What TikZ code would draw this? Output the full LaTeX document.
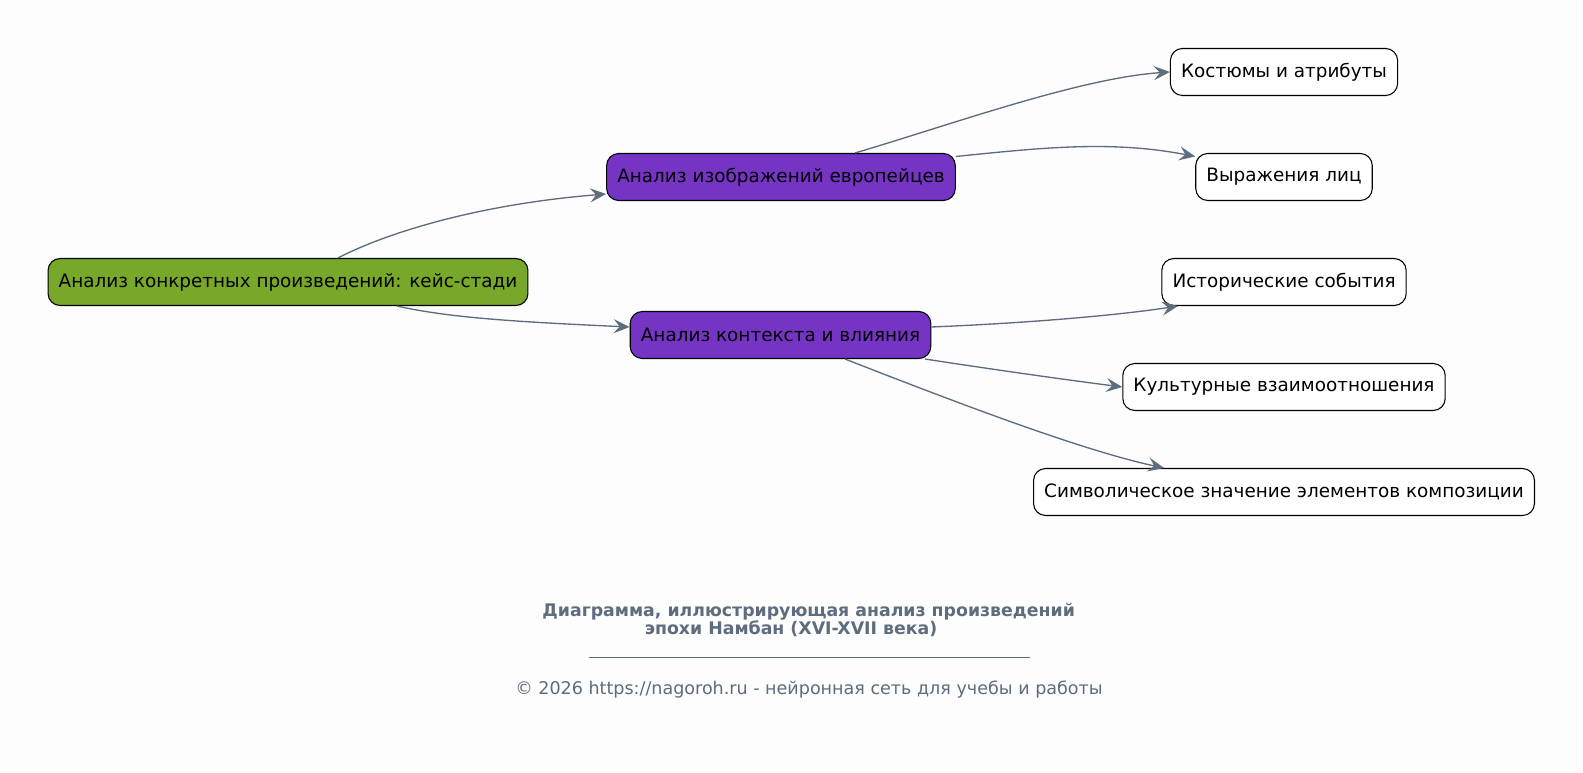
\documentclass[tikz,border=0pt]{standalone}
\usepackage{fontspec}
\setmainfont{DejaVu Sans}
\usetikzlibrary{arrows.meta}
\definecolor{bgc}{HTML}{FDFDFD}
\definecolor{rootc}{HTML}{77A82A}
\definecolor{midc}{HTML}{7634C4}
\definecolor{edgec}{HTML}{5D6D7E}
\tikzset{
  box/.style={draw=black, line width=0.8pt, rounded corners=9pt, minimum height=35.25pt,
    inner xsep=8pt, font=\fontsize{13.8pt}{16pt}\selectfont, text=black},
  rootbox/.style={box, fill=rootc},
  midbox/.style={box, fill=midc},
  leafbox/.style={box, fill=white},
  conn/.style={draw=edgec, line width=1pt, -{Stealth[length=12pt,width=10.5pt,inset=4.5pt]}},
  caption/.style={text=edgec, font=\fontsize{13pt}{13pt}\selectfont\bfseries},
  foot/.style={text=edgec, font=\fontsize{13.15pt}{14pt}\selectfont}
}
\begin{document}
\begin{tikzpicture}[x=0.75pt,y=-0.75pt]
\fill[bgc] (0,0) rectangle (1583,773);
\useasboundingbox (0,0) rectangle (1583,773);

\node[rootbox] (root) at (288,282) {Анализ конкретных произведений: кейс-стади};
\node[midbox] (E) at (781,177) {Анализ изображений европейцев};
\node[midbox] (C) at (780.5,335) {Анализ контекста и влияния};
\node[leafbox] (K) at (1284,72) {Костюмы и атрибуты};
\node[leafbox] (V) at (1284,177) {Выражения лиц};
\node[leafbox] (I) at (1284,282) {Исторические события};
\node[leafbox] (Ku) at (1284,387) {Культурные взаимоотношения};
\node[leafbox] (S) at (1284,492) {Символическое значение элементов композиции};

\draw[conn] ([xshift=37.5pt]root.north) .. controls (380,236) and (470,205) .. ([yshift=-12.75pt]E.west);
\draw[conn] ([xshift=81.75pt]root.south) .. controls (450,318) and (520,322) .. ([yshift=6pt]C.west);
\draw[conn] ([xshift=55.5pt]E.north) .. controls (950,125) and (1080,78) .. (K.west);
\draw[conn] ([yshift=15.4pt]E.east) .. controls (1040,148) and (1110,140) .. ([yshift=15.4pt]V.west);
\draw[conn] ([yshift=6pt]C.east) .. controls (1030,323) and (1120,315) .. ([xshift=-79.5pt]I.south);
\draw[conn] ([xshift=108.4pt]C.south) .. controls (990,369) and (1060,379) .. (Ku.west);
\draw[conn] ([xshift=48.4pt]C.south) .. controls (950,400) and (1080,450) .. ([xshift=-90pt]S.north);

\node[caption] (title1) at (808.7,612) {Диаграмма, иллюстрирующая анализ произведений};
\node[caption] (title2) at (791,629) {эпохи Намбан (XVI-XVII века)};
\coordinate (ulA) at (588.6,657);
\coordinate (ulB) at (1030,657);
\draw[edgec, line width=0.6pt] (ulA) -- (ulB);
\node[foot] (footer) at (809,689.6) {© 2026 https://nagoroh.ru - нейронная сеть для учебы и работы};
\end{tikzpicture}
\end{document}
